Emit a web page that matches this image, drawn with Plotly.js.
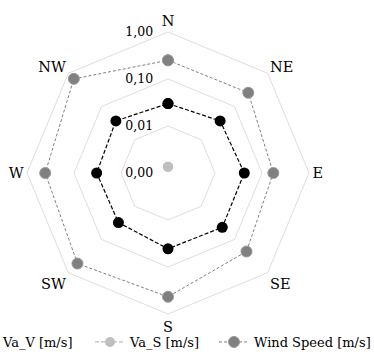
<!DOCTYPE html>
<html>
<head>
<meta charset="utf-8">
<script src="https://cdn.plot.ly/plotly-3.0.1.min.js"></script>
<style>
html,body{margin:0;padding:0;background:#fff;}
#chart{width:374px;height:357px;}
</style>
</head>
<body>
<div id="chart"></div>
<script>
const directions = ['N', 'NE', 'E', 'SE', 'S', 'SW', 'W', 'NW'];
const vaV = [0.030, 0.037, 0.042, 0.043, 0.041, 0.031, 0.033, 0.037];
const vaS = [0.00135, null, null, null, null, null, null, null];
const windSpeed = [0.25, 0.26, 0.174, 0.23, 0.43, 0.53, 0.41, 0.68];
const radialTickVals = [0.001, 0.01, 0.1, 1];
const radialTickText = ['0,00', '0,01', '0,10', '1,00'];

// radial position on a log10 scale whose centre is the lowest tick (0.001)
const logMin = Math.log10(radialTickVals[0]);
function toRadial(arr) {
  const out = arr.map(v => (v === null ? null : Math.log10(v) - logMin));
  return out.concat([out[0]]);
}
function closed(arr) { return arr.concat([arr[0]]); }

const serif = 'DejaVu Serif';

const traces = [
  {
    type: 'scatterpolar', name: 'Va_V [m/s]', legend: 'legend',
    r: toRadial(vaV), theta: closed(directions),
    mode: 'lines+markers',
    line: {color: '#000000', width: 1.2, dash: '4px,2px'},
    marker: {color: '#000000', size: 11, symbol: 'circle'}
  },
  {
    type: 'scatterpolar', name: 'Va_S [m/s]', legend: 'legend2',
    r: toRadial(vaS), theta: closed(directions),
    mode: 'lines+markers',
    line: {color: '#bfbfbf', width: 1.2, dash: '4px,2px'},
    marker: {color: '#bfbfbf', size: 10, symbol: 'circle'}
  },
  {
    type: 'scatterpolar', name: 'Wind Speed [m/s]', legend: 'legend3',
    r: toRadial(windSpeed), theta: closed(directions),
    mode: 'lines+markers',
    line: {color: '#7f7f7f', width: 1, dash: '3px,2px'},
    marker: {color: '#808080', size: 11, symbol: 'circle', line: {color: '#9a9a9a', width: 1}}
  }
];

const legendBase = {
  orientation: 'h', xanchor: 'left', y: 15/357, yanchor: 'middle',
  font: {family: serif, size: 13, color: '#000000'},
  bgcolor: 'rgba(0,0,0,0)', borderwidth: 0
};

const layout = {
  width: 374, height: 357,
  margin: {l: 0, r: 0, t: 0, b: 0, autoexpand: false},
  paper_bgcolor: '#ffffff',
  font: {family: serif, color: '#000000', size: 13},
  showlegend: true,
  legend: Object.assign({}, legendBase, {x: -37/374}),
  legend2: Object.assign({}, legendBase, {x: 90/374}),
  legend3: Object.assign({}, legendBase, {x: 214/374}),
  polar: {
    domain: {x: [27/374, 309/374], y: [43/357, 325/357]},
    bgcolor: '#ffffff',
    gridshape: 'linear',
    angularaxis: {
      type: 'category', rotation: 90, direction: 'clockwise',
      showgrid: false, showline: true, linecolor: '#dedede', linewidth: 1,
      ticks: '', tickfont: {family: serif, size: 14.5, color: '#000000'}
    },
    radialaxis: {
      type: 'linear', range: [0, -logMin], angle: 90, side: 'counterclockwise',
      tickvals: radialTickVals.map(v => Math.log10(v) - logMin), ticktext: radialTickText,
      showline: false, ticks: 'outside', ticklen: 10, tickcolor: 'rgba(0,0,0,0)',
      gridcolor: '#dedede', gridwidth: 1,
      tickfont: {family: serif, size: 12.5, color: '#000000'}, tickangle: 90
    }
  }
};

Plotly.newPlot('chart', traces, layout, {displayModeBar: false});
</script>
</body>
</html>
